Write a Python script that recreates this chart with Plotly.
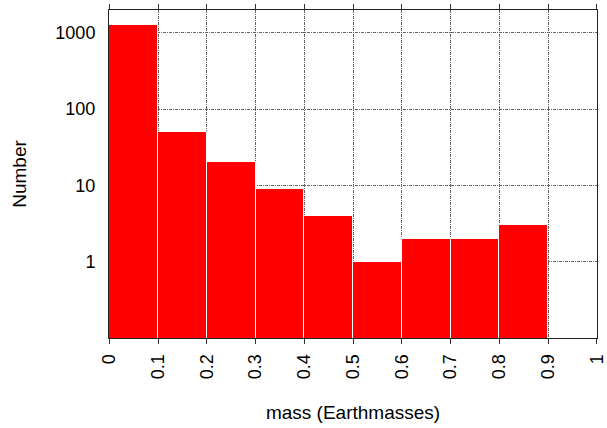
import plotly.graph_objects as go

# Histogram of body masses, bins of 0.1 Earth masses
bin_edges = [0.0, 0.1, 0.2, 0.3, 0.4, 0.5, 0.6, 0.7, 0.8, 0.9]
counts = [1250, 50, 20, 9, 4, 1, 2, 2, 3]
bin_width = 0.1

x_ticks = [0, 0.1, 0.2, 0.3, 0.4, 0.5, 0.6, 0.7, 0.8, 0.9, 1]
x_tick_labels = ["0", "0.1", "0.2", "0.3", "0.4", "0.5", "0.6", "0.7", "0.8", "0.9", "1"]
y_ticks = [1, 10, 100, 1000]
y_tick_labels = ["1", "10", "100", "1000"]

centers = [e + bin_width / 2 for e in bin_edges]

fig = go.Figure(
    go.Bar(
        x=centers,
        y=counts,
        width=[bin_width] * len(counts),
        marker=dict(color="#ff0000", line=dict(color="white", width=1)),
    )
)

font = "Liberation Sans, Arial, Helvetica, sans-serif"
grid_dash = "3px,1px,1px,1px"

fig.update_layout(
    width=607,
    height=428,
    margin=dict(l=109, r=10, t=10, b=90, autoexpand=False),
    paper_bgcolor="white",
    plot_bgcolor="white",
    showlegend=False,
    bargap=0,
    font=dict(family=font, size=18, color="black"),
)

fig.update_xaxes(
    range=[-0.0005, 1.0005],
    automargin=False,
    tickvals=x_ticks,
    ticktext=x_tick_labels,
    tickangle=-90,
    ticks="outside",
    ticklen=5,
    tickcolor="#333333",
    ticklabeloverflow="allow",
    ticklabelstandoff=3,
    showline=True,
    linecolor="#222222",
    linewidth=1,
    mirror="ticks",
    showgrid=True,
    gridcolor="#666666",
    griddash=grid_dash,
    gridwidth=1,
    zeroline=False,
    tickfont=dict(size=18),
    title=dict(text="mass (Earthmasses)", font=dict(size=19), standoff=27),
)

fig.update_yaxes(
    type="log",
    range=[-1, 3.3],
    automargin=False,
    tickvals=y_ticks,
    ticktext=y_tick_labels,
    ticks="",
    ticklabelstandoff=9,
    showline=True,
    linecolor="#222222",
    linewidth=1,
    mirror=True,
    showgrid=True,
    gridcolor="#666666",
    griddash=grid_dash,
    gridwidth=1,
    zeroline=False,
    tickfont=dict(size=18),
    title=dict(text="Number", font=dict(size=19), standoff=23),
)

fig.write_html("out.html")
